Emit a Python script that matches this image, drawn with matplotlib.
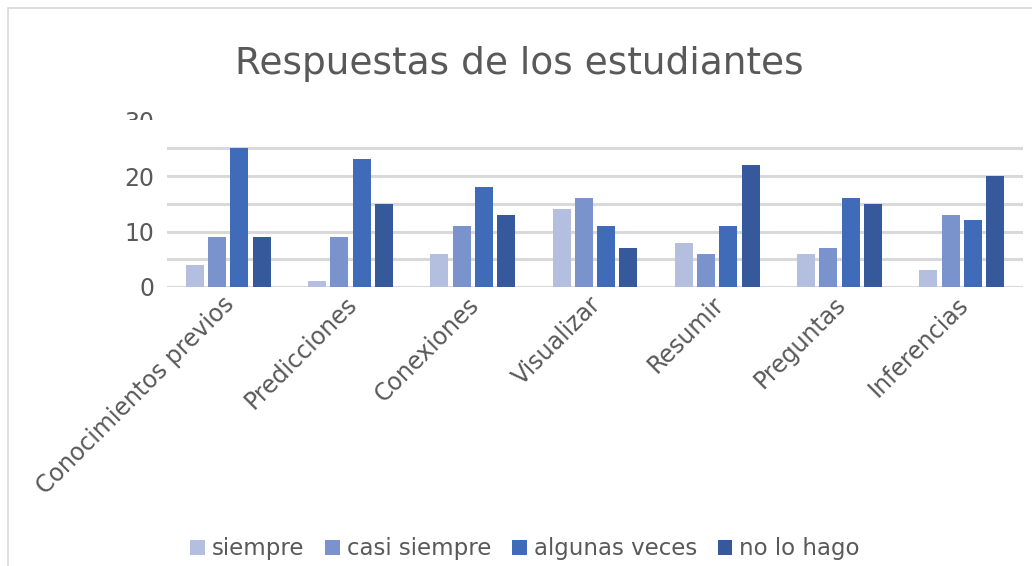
import matplotlib
matplotlib.use("Agg")
import matplotlib.pyplot as plt
import matplotlib.transforms as mtransforms
import numpy as np
from matplotlib.patches import Rectangle

categories = ["Conocimientos previos", "Predicciones", "Conexiones", "Visualizar",
              "Resumir", "Preguntas", "Inferencias"]
series_names = ["siempre", "casi siempre", "algunas veces", "no lo hago"]
siempre = [4, 1, 6, 14, 8, 6, 3]
casi_siempre = [9, 9, 11, 16, 6, 7, 13]
algunas_veces = [25, 23, 18, 11, 11, 16, 12]
no_lo_hago = [9, 15, 13, 7, 22, 15, 20]
yticks = [0, 10, 20, 30]
title = "Respuestas de los estudiantes"

colors = ["#B4BEDF", "#7A93CD", "#3F6BB9", "#36599C"]
txt = "#595959"

W, H = 1032, 566
fig = plt.figure(figsize=(W / 100, H / 100), dpi=100)
ax = fig.add_axes([167 / W, 1 - 287 / H, (1023 - 167) / W, (287 - 120.5) / H])

x = np.arange(len(categories))
step = 0.182
bw = 0.147
data = [siempre, casi_siempre, algunas_veces, no_lo_hago]
for i, (vals, name, c) in enumerate(zip(data, series_names, colors)):
    ax.bar(x + (i - 1.5) * step, vals, width=bw, color=c, label=name, zorder=3)

ax.set_xlim(-0.5, len(categories) - 0.5)
ax.set_ylim(0, 30)
ax.set_yticks(yticks)
for v in range(0, 30, 5):
    ax.axhline(v, color="#D9D9D9", lw=2.2, zorder=1)
for s in ax.spines.values():
    s.set_visible(False)
ax.tick_params(axis="both", length=0, labelsize=17, colors=txt)
ax.tick_params(axis="y", pad=9)
ax.set_xticks(x)
ax.set_xticklabels(categories, rotation=45, ha="right", rotation_mode="anchor")
ax.tick_params(axis="x", pad=6)
offset = mtransforms.ScaledTranslation(-6 / 100, 3 / 100, fig.dpi_scale_trans)
for lab in ax.get_xticklabels():
    lab.set_transform(lab.get_transform() + offset)

fig.text(519 / W, 1 - 64 / H, title, ha="center", va="center", fontsize=27, color=txt)

leg = fig.legend(loc="center", bbox_to_anchor=(525 / W, 1 - 549 / H), ncol=4, frameon=False,
                 fontsize=16.5, handlelength=0.65, handleheight=0.65, handletextpad=0.3,
                 columnspacing=0.9, labelcolor=txt)

# mask clipping the lower part of the top tick label, as in the reference
fig.patches.append(Rectangle((105 / W, 1 - 132 / H), 60 / W, 12 / H, transform=fig.transFigure,
                             facecolor="white", edgecolor="none", zorder=10))
# outer border
fig.patches.append(Rectangle((8 / W, -0.1), 1.2, 1 - 8 / H + 0.1, transform=fig.transFigure,
                             facecolor="none", edgecolor="#D9D9D9", lw=1.2, zorder=11))

fig.savefig("out.png", dpi=100)
